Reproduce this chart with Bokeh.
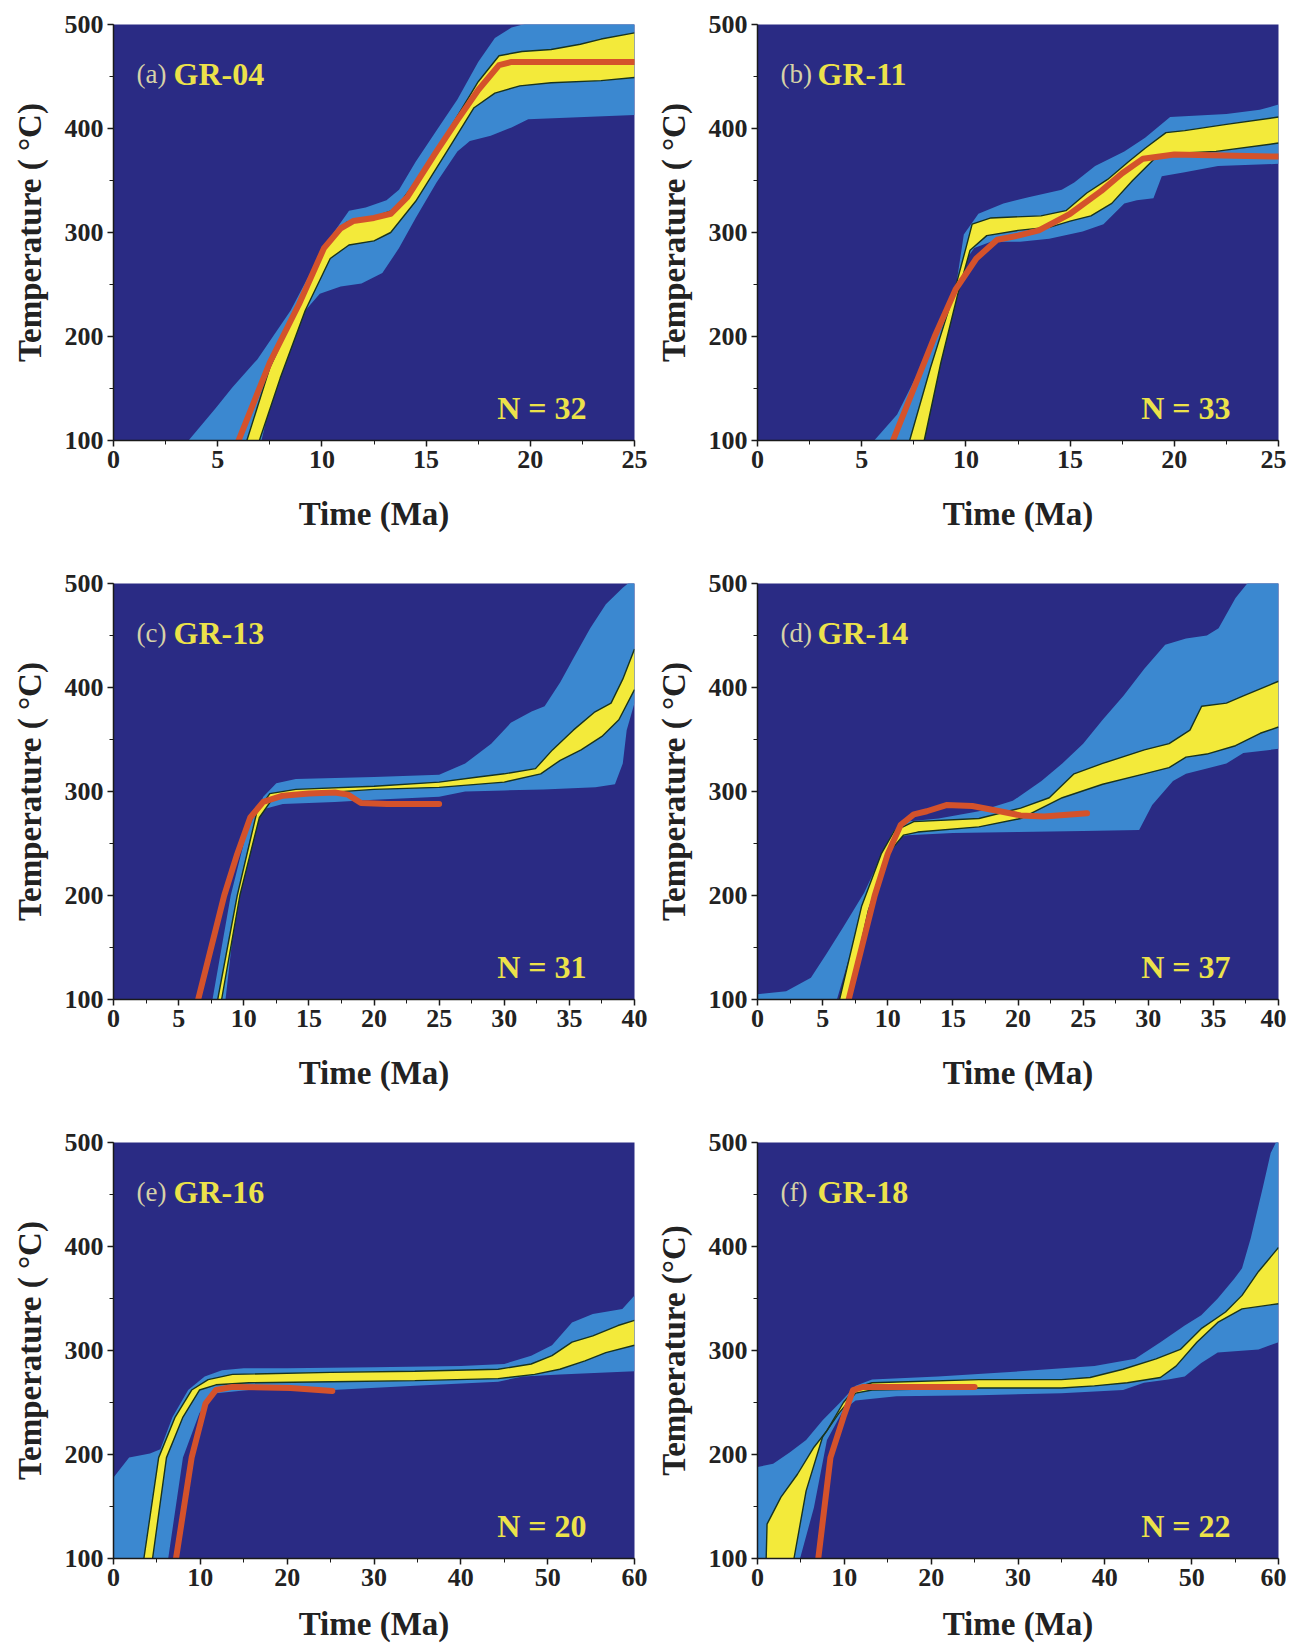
from bokeh.plotting import figure
from bokeh.models import Range1d, SingleIntervalTicker, Label
from bokeh.layouts import column, row
from bokeh.embed import file_html
from bokeh.resources import INLINE

# ---------------- data (time in Ma, temperature in deg C) ----------------
# (a) GR-04
a_blue_hi_t = [3.6, 4.9, 5.7, 6.9, 8.5, 9.7, 10.5, 11.3, 12.1, 13.1, 13.7, 14.5, 15.5, 16.5, 17.5, 18.3, 19.1, 20.2, 25.0]
a_blue_hi_T = [100, 131, 151, 178, 225, 271, 298, 321, 324, 331, 341, 368, 398, 428, 464, 487, 497, 503, 508]
a_blue_lo_t = [7.1, 8.1, 8.9, 9.9, 10.9, 11.9, 12.9, 13.7, 14.5, 15.5, 16.5, 17.1, 18.1, 19.1, 19.9, 25.0]
a_blue_lo_T = [100, 185, 218, 241, 248, 251, 261, 285, 314, 348, 378, 388, 393, 401, 409, 413]
a_yel_hi_t = [6.4, 7.5, 9.0, 10.2, 11.2, 12.5, 13.5, 15.0, 16.5, 17.5, 18.5, 19.6, 21.0, 22.4, 23.4, 25.0]
a_yel_hi_T = [100, 170, 235, 288, 310, 315, 322, 362, 412, 445, 470, 474, 476, 481, 486, 492]
a_yel_lo_t = [7.0, 8.0, 9.2, 10.4, 11.3, 12.5, 13.3, 14.5, 16.0, 17.3, 18.3, 19.5, 21.0, 23.4, 25.0]
a_yel_lo_T = [100, 160, 225, 275, 288, 292, 300, 330, 378, 420, 434, 441, 444, 446, 449]
a_best_t = [6.0, 7.5, 8.9, 10.1, 10.9, 11.5, 12.5, 13.3, 14.1, 15.5, 16.5, 17.5, 18.5, 19.1, 25.0]
a_best_T = [100, 175, 231, 285, 304, 311, 314, 318, 334, 378, 408, 437, 461, 464, 464]

# (b) GR-11
b_blue_hi_t = [5.6, 6.7, 8.7, 9.5, 9.9, 10.6, 11.8, 13.0, 14.6, 15.2, 16.2, 17.6, 18.6, 19.8, 22.5, 24.1, 25.0]
b_blue_hi_T = [100, 125, 205, 245, 298, 318, 328, 334, 341, 348, 364, 378, 391, 411, 414, 418, 423]
b_blue_lo_t = [7.6, 8.5, 9.3, 9.9, 10.4, 11.2, 12.6, 14.0, 15.6, 16.6, 17.6, 18.2, 19.0, 19.4, 20.5, 22.1, 25.0]
b_blue_lo_T = [100, 175, 235, 271, 285, 291, 291, 294, 301, 308, 328, 331, 333, 354, 358, 364, 366]
b_yel_hi_t = [7.3, 8.3, 9.4, 10.0, 10.3, 11.2, 13.6, 14.8, 15.8, 16.8, 17.8, 18.6, 19.6, 20.5, 22.5, 25.0]
b_yel_hi_T = [100, 170, 240, 285, 308, 314, 316, 321, 338, 351, 368, 381, 396, 398, 404, 411]
b_yel_lo_t = [8.0, 8.8, 9.6, 10.2, 11.0, 12.5, 14.0, 15.0, 16.0, 17.0, 18.0, 19.0, 20.0, 22.0, 25.0]
b_yel_lo_T = [100, 175, 240, 283, 297, 302, 305, 311, 316, 328, 350, 370, 376, 378, 386]
b_best_t = [6.5, 7.5, 8.5, 9.5, 10.5, 11.5, 12.5, 13.5, 15.0, 16.5, 17.5, 18.5, 20.0, 25.0]
b_best_T = [100, 150, 200, 245, 275, 293, 297, 302, 318, 340, 357, 371, 375, 373]

# (c) GR-13
c_blue_hi_t = [7.6, 9.0, 10.2, 11.5, 12.5, 14.0, 20.0, 25.0, 27.0, 29.0, 30.5, 32.1, 33.1, 34.3, 35.3, 36.6, 37.8, 39.1, 40.0]
c_blue_hi_T = [100, 200, 260, 295, 308, 312, 314, 316, 327, 346, 366, 377, 382, 405, 428, 457, 480, 496, 505]
c_blue_lo_t = [8.6, 9.5, 10.5, 11.5, 13.0, 17.0, 20.0, 25.0, 27.0, 30.0, 33.0, 37.0, 38.5, 39.1, 39.4, 40.0]
c_blue_lo_T = [100, 200, 255, 283, 288, 290, 292, 295, 300, 301, 302, 304, 307, 327, 359, 385]
c_yel_hi_t = [8.0, 9.5, 11.0, 12.0, 14.0, 20.0, 25.0, 28.0, 30.0, 32.4, 33.7, 35.3, 36.9, 38.2, 39.1, 40.0]
c_yel_hi_T = [100, 200, 280, 298, 302, 305, 309, 314, 317, 322, 340, 359, 376, 385, 408, 437]
c_yel_lo_t = [8.3, 9.7, 11.2, 12.2, 14.0, 20.0, 25.0, 30.0, 32.8, 34.3, 35.9, 37.5, 38.8, 40.0]
c_yel_lo_T = [100, 200, 275, 293, 297, 302, 304, 309, 317, 330, 340, 353, 369, 398]
c_best_t = [6.5, 7.5, 8.5, 9.5, 10.5, 11.5, 13.0, 15.0, 17.0, 18.0, 19.0, 21.0, 25.0]
c_best_T = [100, 150, 200, 240, 275, 290, 296, 298, 299, 297, 289, 288, 288]

# (d) GR-14
d_blue_hi_t = [0.0, 2.2, 4.1, 5.3, 6.6, 8.2, 9.4, 10.4, 11.3, 13.9, 17.0, 19.6, 21.8, 23.4, 25.0, 26.5, 28.1, 29.7, 31.3, 32.9, 34.5, 35.4, 36.7, 37.6, 40.0]
d_blue_hi_T = [105, 108, 121, 144, 170, 203, 235, 261, 271, 274, 281, 291, 310, 327, 346, 369, 392, 418, 441, 447, 450, 457, 486, 500, 520]
d_blue_lo_t = [0.0, 6.1, 7.5, 8.5, 9.5, 10.5, 11.5, 15.0, 20.0, 25.0, 29.3, 30.3, 31.9, 32.9, 34.5, 36.0, 37.3, 40.0]
d_blue_lo_T = [100, 100, 160, 200, 235, 255, 258, 260, 261, 262, 263, 287, 310, 317, 322, 327, 337, 341]
d_yel_hi_t = [6.3, 8.0, 9.5, 10.5, 12.0, 17.0, 20.2, 22.4, 24.3, 26.5, 29.7, 31.6, 33.2, 34.1, 36.0, 37.3, 40.0]
d_yel_hi_T = [100, 190, 240, 262, 271, 274, 284, 294, 317, 327, 340, 346, 359, 382, 385, 392, 406]
d_yel_lo_t = [7.0, 8.5, 10.0, 11.2, 12.3, 17.0, 20.2, 23.4, 26.5, 29.7, 31.6, 32.9, 34.5, 36.7, 38.6, 40.0]
d_yel_lo_T = [100, 185, 240, 258, 261, 266, 274, 294, 307, 317, 323, 333, 336, 344, 356, 362]
d_best_t = [7.0, 8.0, 9.0, 10.0, 11.0, 12.0, 13.0, 14.5, 16.5, 18.6, 20.2, 22.0, 25.3]
d_best_T = [100, 150, 200, 240, 268, 278, 281, 287, 286, 281, 277, 276, 279]

# (e) GR-16
e_blue_hi_t = [0.0, 1.8, 4.2, 5.4, 6.8, 8.6, 10.5, 12.5, 15.0, 20.0, 30.0, 40.0, 45.0, 48.1, 50.5, 52.8, 55.2, 58.6, 60.0]
e_blue_hi_T = [178, 197, 201, 205, 236, 262, 275, 281, 283, 283, 284, 285, 287, 295, 305, 327, 335, 340, 353]
e_blue_lo_t = [0.0, 6.3, 8.0, 9.9, 11.8, 15.6, 25.2, 34.7, 44.3, 47.1, 51.4, 60.0]
e_blue_lo_T = [100, 100, 197, 240, 259, 262, 262, 266, 270, 275, 277, 280]
e_yel_hi_t = [3.5, 5.2, 7.1, 9.0, 10.9, 13.7, 25.0, 34.7, 44.3, 48.1, 50.5, 52.8, 55.2, 58.1, 60.0]
e_yel_hi_T = [100, 197, 236, 262, 272, 277, 279, 280, 282, 287, 295, 308, 314, 324, 329]
e_yel_lo_t = [4.5, 6.1, 8.0, 9.9, 11.8, 15.6, 25.2, 34.7, 44.3, 48.5, 51.4, 54.3, 56.7, 60.0]
e_yel_lo_T = [100, 197, 236, 262, 267, 269, 270, 271, 273, 277, 282, 290, 298, 305]
e_best_t = [7.2, 9.0, 10.6, 11.8, 13.7, 20.4, 25.2]
e_best_T = [100, 197, 249, 262, 265, 264, 261]

# (f) GR-18
f_blue_hi_t = [0.0, 1.8, 3.7, 5.6, 7.5, 9.4, 11.3, 13.2, 20.8, 30.2, 38.8, 43.5, 46.4, 49.2, 51.1, 53.0, 54.9, 55.8, 56.8, 58.2, 59.1, 60.0]
f_blue_hi_T = [188, 191, 202, 214, 233, 249, 266, 272, 275, 280, 285, 292, 308, 324, 334, 350, 369, 379, 408, 457, 490, 505]
f_blue_lo_t = [0.0, 4.9, 6.5, 8.0, 9.9, 11.3, 16.0, 25.5, 35.0, 42.1, 44.5, 47.3, 49.2, 51.1, 53.0, 57.7, 60.0]
f_blue_lo_T = [100, 100, 149, 214, 243, 252, 256, 257, 259, 262, 269, 272, 275, 288, 298, 301, 308]
f_yel_hi_t = [1.0, 1.1, 2.7, 4.6, 6.5, 8.0, 9.9, 11.3, 13.2, 25.5, 35.0, 38.3, 42.1, 45.9, 48.7, 51.1, 53.9, 55.8, 57.7, 60.0]
f_yel_hi_T = [100, 133, 159, 181, 207, 223, 250, 264, 269, 272, 272, 274, 282, 292, 301, 321, 337, 353, 376, 399]
f_yel_lo_t = [4.2, 5.6, 7.5, 9.4, 11.3, 13.2, 25.5, 35.0, 38.8, 42.6, 46.4, 48.2, 50.6, 53.0, 55.8, 60.0]
f_yel_lo_T = [100, 165, 217, 240, 259, 262, 264, 264, 266, 269, 274, 285, 308, 327, 340, 345]
f_best_t = [7.0, 8.4, 9.9, 11.0, 12.2, 16.0, 20.8, 25.0]
f_best_T = [100, 197, 236, 262, 265, 265, 265, 265]

panel_letters = ["(a)", "(b)", "(c)", "(d)", "(e)", "(f)"]
sample_names = ["GR-04", "GR-11", "GR-13", "GR-14", "GR-16", "GR-18"]
n_counts = [32, 33, 31, 37, 20, 22]
time_max = [25, 25, 40, 40, 60, 60]
time_step = [5, 5, 5, 5, 10, 10]
y_labels = ["Temperature ( °C)"] * 5 + ["Temperature (°C)"]

# ---------------- styling ----------------
NAVY = "#2a2b84"
BLUE = "#3b88d0"
YELLOW = "#f3ea3a"
RED = "#d4522b"
EDGE = "#18331f"
LABEL_YELLOW = "#ece24a"
LETTER_COL = "#d6d2a8"
FONT = "Liberation Serif"
FW, FH = 521, 416


def make_panel(i, bh, bl, yh, yl, best, left_col, last_row):
    xmax = time_max[i]
    p = figure(frame_width=FW, frame_height=FH,
               x_range=Range1d(0, xmax), y_range=Range1d(100, 500),
               output_backend="svg", toolbar_location=None,
               min_border_left=113 if left_col else 108,
               min_border_right=15 if left_col else 8,
               min_border_top=24,
               min_border_bottom=90 if last_row else 119,
               background_fill_color=NAVY, border_fill_color="white",
               outline_line_color=None)
    p.grid.visible = False

    # blue envelope
    p.patch(bh[0] + bl[0][::-1], bh[1] + bl[1][::-1], fill_color=BLUE, line_color=None)
    # yellow envelope
    p.patch(yh[0] + yl[0][::-1], yh[1] + yl[1][::-1], fill_color=YELLOW, line_color=None)
    p.line(yh[0], yh[1], line_color=EDGE, line_width=1.4)
    p.line(yl[0], yl[1], line_color=EDGE, line_width=1.4)
    # best-fit path
    p.line(best[0], best[1], line_color=RED, line_width=6, line_cap="round", line_join="round")

    # axes
    p.xaxis.ticker = SingleIntervalTicker(interval=time_step[i], num_minor_ticks=2)
    p.yaxis.ticker = SingleIntervalTicker(interval=100, num_minor_ticks=2)
    for ax in (p.xaxis[0], p.yaxis[0]):
        ax.axis_line_color = "#1a1a1a"
        ax.axis_line_width = 1.5
        ax.major_tick_line_color = "#1a1a1a"
        ax.minor_tick_line_color = "#1a1a1a"
        ax.major_tick_line_width = 1.5
        ax.major_tick_out = 6
        ax.major_tick_in = 0
        ax.minor_tick_out = 4
        ax.minor_tick_in = 0
        ax.major_label_text_font = FONT
        ax.major_label_text_font_style = "bold"
        ax.major_label_text_font_size = "26px"
        ax.major_label_text_color = "#222222"
        ax.major_label_standoff = 4
        ax.axis_label_text_font = FONT
        ax.axis_label_text_font_style = "bold"
        ax.axis_label_text_font_size = "33px"
        ax.axis_label_text_color = "#222222"
    p.xaxis.axis_label = "Time (Ma)"
    p.xaxis.axis_label_standoff = 17 if last_row else 25
    p.yaxis.axis_label = y_labels[i]
    p.yaxis.axis_label_standoff = 14

    # panel labels (positions derived from axis extents)
    x_px = xmax / FW
    y_px = 400.0 / FH
    p.add_layout(Label(x=23 * x_px, y=500 - 49 * y_px, text=panel_letters[i],
                       text_font=FONT, text_font_size="27px", text_color=LETTER_COL,
                       text_baseline="middle", text_align="left"))
    p.add_layout(Label(x=60 * x_px, y=500 - 49 * y_px, text=sample_names[i],
                       text_font=FONT, text_font_style="bold", text_font_size="32px",
                       text_color=LABEL_YELLOW, text_baseline="middle", text_align="left"))
    p.add_layout(Label(x=xmax - 48 * x_px, y=100 + 33 * y_px, text="N = %d" % n_counts[i],
                       text_font=FONT, text_font_style="bold", text_font_size="32px",
                       text_color=LABEL_YELLOW, text_baseline="middle", text_align="right"))
    return p


pa = make_panel(0, (a_blue_hi_t, a_blue_hi_T), (a_blue_lo_t, a_blue_lo_T), (a_yel_hi_t, a_yel_hi_T), (a_yel_lo_t, a_yel_lo_T), (a_best_t, a_best_T), True, False)
pb = make_panel(1, (b_blue_hi_t, b_blue_hi_T), (b_blue_lo_t, b_blue_lo_T), (b_yel_hi_t, b_yel_hi_T), (b_yel_lo_t, b_yel_lo_T), (b_best_t, b_best_T), False, False)
pc = make_panel(2, (c_blue_hi_t, c_blue_hi_T), (c_blue_lo_t, c_blue_lo_T), (c_yel_hi_t, c_yel_hi_T), (c_yel_lo_t, c_yel_lo_T), (c_best_t, c_best_T), True, False)
pd = make_panel(3, (d_blue_hi_t, d_blue_hi_T), (d_blue_lo_t, d_blue_lo_T), (d_yel_hi_t, d_yel_hi_T), (d_yel_lo_t, d_yel_lo_T), (d_best_t, d_best_T), False, False)
pe = make_panel(4, (e_blue_hi_t, e_blue_hi_T), (e_blue_lo_t, e_blue_lo_T), (e_yel_hi_t, e_yel_hi_T), (e_yel_lo_t, e_yel_lo_T), (e_best_t, e_best_T), True, True)
pf = make_panel(5, (f_blue_hi_t, f_blue_hi_T), (f_blue_lo_t, f_blue_lo_T), (f_yel_hi_t, f_yel_hi_T), (f_yel_lo_t, f_yel_lo_T), (f_best_t, f_best_T), False, True)

layout = column(row(pa, pb), row(pc, pd), row(pe, pf))

with open("out.html", "w") as fh:
    fh.write(file_html(layout, INLINE))
